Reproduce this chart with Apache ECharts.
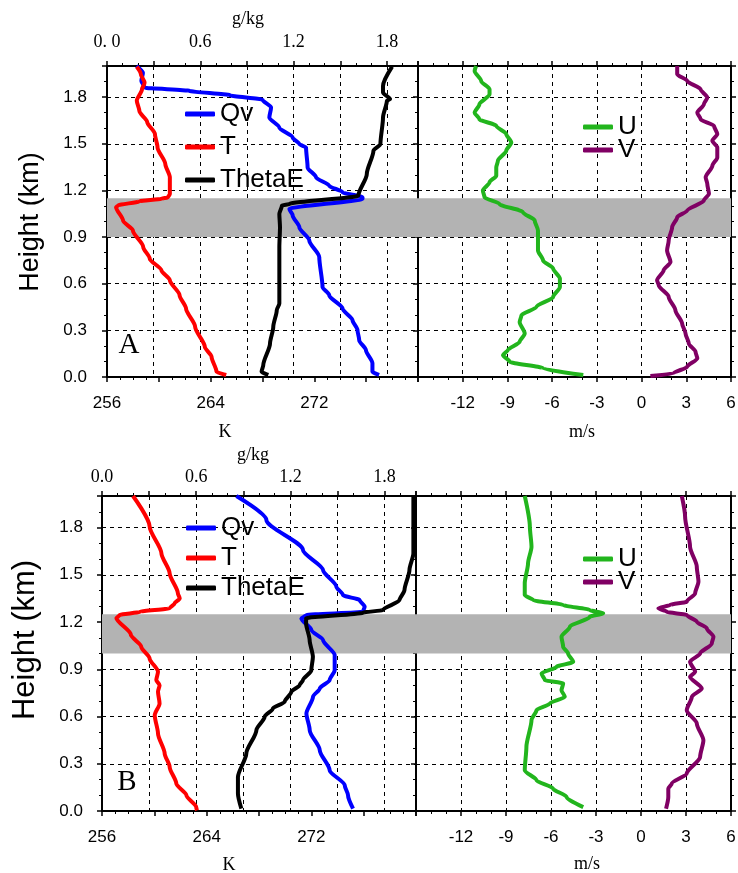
<!DOCTYPE html>
<html>
<head>
<meta charset="utf-8">
<title>Profiles A / B</title>
<script src="https://cdn.jsdelivr.net/npm/echarts@6/dist/echarts.min.js"></script>
</head>
<body style="margin:0;background:#fff">
<div id="container" style="width:738px;height:873px"></div>
<script>
// ---- data: [value, height km] ----
var aT = [[258.3,1.995],[258.6,1.95],[258.9,1.893],[258.7,1.85],[258.3,1.776],[258.5,1.71],[259.1,1.64],[259.7,1.562],[259.9,1.476],[260.5,1.37],[260.85,1.284],[260.85,1.177],[260.7,1.155],[260.2,1.146],[258.5,1.13],[256.85,1.103],[256.7,1.092],[257.24,1.006],[258.0,0.942],[258.8,0.835],[259.3,0.761],[260.2,0.686],[260.85,0.622],[261.6,0.526],[262.1,0.44],[262.8,0.323],[263.55,0.194],[264.07,0.13],[264.45,0.034],[265.2,0.013]];
var aThetaE = [[278.0,1.996],[277.3,1.872],[277.3,1.829],[277.85,1.787],[277.6,1.776],[277.3,1.669],[277.1,1.498],[276.56,1.455],[276.05,1.306],[275.4,1.167],[270.1,1.113],[269.5,1.103],[269.3,1.049],[269.35,0.963],[269.3,0.835],[269.3,0.472],[269.1,0.43],[268.83,0.322],[268.58,0.216],[268.06,0.077],[267.93,0.034],[268.45,0.013]];
var aQv = [[0.189,2.0],[0.231,1.957],[0.221,1.904],[0.242,1.861],[0.531,1.84],[0.789,1.812],[1.001,1.782],[1.055,1.733],[1.044,1.669],[1.108,1.604],[1.194,1.54],[1.237,1.498],[1.28,1.476],[1.29,1.348],[1.344,1.284],[1.429,1.23],[1.515,1.188],[1.643,1.156],[1.643,1.146],[1.173,1.081],[1.194,1.039],[1.237,0.963],[1.301,0.878],[1.365,0.771],[1.386,0.579],[1.429,0.526],[1.515,0.44],[1.579,0.365],[1.611,0.301],[1.622,0.237],[1.665,0.173],[1.707,0.088],[1.707,0.034],[1.75,0.013]];
var aU = [[-11.1,2.0],[-11.2,1.968],[-10.76,1.904],[-10.2,1.85],[-10.2,1.818],[-10.88,1.754],[-11.2,1.7],[-10.88,1.658],[-9.75,1.615],[-9.08,1.562],[-8.74,1.508],[-9.08,1.455],[-9.64,1.391],[-9.75,1.348],[-9.75,1.295],[-10.2,1.252],[-10.65,1.199],[-10.54,1.156],[-9.53,1.113],[-7.96,1.06],[-7.17,1.006],[-6.95,0.942],[-6.95,0.814],[-6.61,0.75],[-5.93,0.697],[-5.48,0.633],[-5.48,0.579],[-5.93,0.515],[-7.05,0.451],[-8.06,0.397],[-8.18,0.354],[-7.84,0.28],[-8.18,0.226],[-8.97,0.173],[-9.3,0.141],[-8.85,0.098],[-6.61,0.056],[-3.91,0.013]];
var aV = [[2.39,2.0],[2.39,1.947],[3.06,1.904],[3.96,1.85],[4.41,1.797],[4.18,1.754],[3.74,1.7],[3.96,1.658],[4.86,1.615],[5.08,1.562],[4.75,1.519],[5.08,1.476],[5.08,1.412],[4.75,1.359],[4.3,1.284],[4.41,1.241],[4.52,1.178],[4.18,1.135],[3.06,1.07],[2.39,1.028],[2.05,0.963],[1.82,0.878],[1.71,0.814],[1.94,0.739],[1.48,0.686],[1.04,0.622],[1.15,0.59],[1.82,0.515],[2.27,0.43],[2.72,0.344],[2.95,0.28],[3.17,0.216],[3.62,0.162],[3.74,0.12],[3.06,0.066],[2.16,0.024],[0.59,0.006]];

var bT = [[258.37,2.0],[259.64,1.806],[260.54,1.636],[261.17,1.509],[261.8,1.382],[261.94,1.35],[261.55,1.318],[261.17,1.287],[258.9,1.265],[257.35,1.244],[257.1,1.225],[258.2,1.12],[259.0,1.043],[259.64,0.969],[260.28,0.884],[260.15,0.831],[260.4,0.799],[260.28,0.757],[260.4,0.683],[260.03,0.608],[260.28,0.492],[260.79,0.365],[261.17,0.28],[261.68,0.174],[262.45,0.1],[263.2,0.025],[263.26,0.004]];
var bThetaE = [[279.8,2.0],[279.8,1.827],[279.8,1.636],[279.5,1.53],[279.12,1.403],[278.74,1.339],[277.47,1.276],[275.94,1.259],[271.6,1.223],[271.6,1.191],[271.87,1.085],[272.12,0.979],[272.0,0.894],[271.36,0.831],[271.1,0.799],[270.47,0.757],[269.96,0.693],[269.06,0.651],[268.43,0.598],[267.8,0.513],[267.03,0.365],[266.39,0.216],[266.39,0.111],[266.65,0.015]];
var bQv = [[0.856,2.0],[1.047,1.848],[1.28,1.657],[1.408,1.53],[1.493,1.424],[1.535,1.371],[1.641,1.339],[1.673,1.297],[1.662,1.265],[1.302,1.244],[1.27,1.223],[1.334,1.149],[1.408,1.085],[1.482,0.99],[1.482,0.894],[1.45,0.831],[1.387,0.778],[1.344,0.725],[1.302,0.619],[1.323,0.513],[1.387,0.386],[1.45,0.259],[1.546,0.163],[1.567,0.1],[1.599,0.015]];
var bU = [[-7.75,2.0],[-7.41,1.806],[-7.3,1.678],[-7.53,1.573],[-7.75,1.446],[-7.75,1.371],[-7.19,1.339],[-5.19,1.308],[-3.41,1.276],[-2.52,1.255],[-3.41,1.233],[-4.74,1.17],[-5.3,1.106],[-5.19,1.043],[-4.86,1.0],[-4.52,0.947],[-5.63,0.915],[-6.63,0.873],[-6.41,0.831],[-5.19,0.81],[-5.3,0.767],[-5.08,0.725],[-6.08,0.683],[-6.97,0.64],[-7.3,0.577],[-7.64,0.407],[-7.75,0.259],[-6.97,0.195],[-5.86,0.142],[-4.96,0.089],[-3.85,0.025]];
var bV = [[2.72,2.0],[2.94,1.869],[3.27,1.678],[3.72,1.551],[3.83,1.456],[3.61,1.382],[3.05,1.329],[1.94,1.308],[1.16,1.287],[1.72,1.265],[3.05,1.244],[3.72,1.202],[4.39,1.159],[4.83,1.106],[4.72,1.064],[3.94,1.0],[3.27,0.947],[3.61,0.884],[3.27,0.852],[4.05,0.778],[3.39,0.725],[3.05,0.64],[3.72,0.556],[4.16,0.449],[3.94,0.343],[3.05,0.238],[2.05,0.174],[1.82,0.142],[1.82,0.089],[1.67,0.015]];

// shaded layers [bottom, top] km
var aBand = [0.9, 1.15];
var bBand = [1.0, 1.25];

// tick labels
var kLabels = [256, 264, 272];
var qvLabels = [0, 0.6, 1.2, 1.8];
var windLabels = [-12, -9, -6, -3, 0, 3, 6];

var sans = 'Liberation Sans', serif = 'Liberation Serif';
var dom = document.getElementById('container');
var myChart = echarts.init(dom);

function near(v, list) {
  for (var i = 0; i < list.length; i++) if (Math.abs(v - list[i]) < 1e-6) return true;
  return false;
}

function axis(o) {
  var a = {
    type: 'value', gridIndex: o.grid, position: o.pos, min: o.min, max: o.max, interval: o.interval,
    axisLine: {show: true, onZero: false, lineStyle: {color: '#000', width: 2}},
    axisTick: {show: true, inside: false, length: 5, lineStyle: {color: '#000', width: 1.5}},
    minorTick: {show: true, splitNumber: o.minor, length: 3, lineStyle: {color: '#000', width: 1}},
    splitLine: o.split ? {show: true, lineStyle: {color: '#000', width: 1, type: [4, 4]}} : {show: false},
    axisLabel: o.label ? o.label : {show: false}
  };
  return a;
}

function hgtLabel(margin) {
  return {show: true, margin: margin, color: '#000', fontFamily: sans, fontSize: 17,
    formatter: function (v) { return v > 1.95 ? '' : v.toFixed(1); }};
}
function kLabel() {
  return {show: true, margin: 18, color: '#000', fontFamily: sans, fontSize: 17,
    formatter: function (v) { return near(v, kLabels) ? String(v) : ''; }};
}
function qvLabel(margin, zero) {
  return {show: true, margin: margin, color: '#000', fontFamily: serif, fontSize: 18,
    formatter: function (v) { return near(v, qvLabels) ? (v === 0 ? zero : v.toFixed(1)) : ''; }};
}
function windLabel() {
  return {show: true, margin: 18, color: '#000', fontFamily: sans, fontSize: 17,
    formatter: function (v) { return near(v, windLabels) ? String(v) : ''; }};
}

function line(name, data, color, xi, yi) {
  return {
    name: name, type: 'line', data: data, xAxisIndex: xi, yAxisIndex: yi,
    showSymbol: false, symbol: 'none', smooth: 0.25, smoothMonotone: 'y', z: 3,
    itemStyle: {color: color}, lineStyle: {color: color, width: 4}
  };
}
function band(b, xi, yi) {
  return {
    name: 'band' + xi, type: 'line', data: [], xAxisIndex: xi, yAxisIndex: yi, z: 1,
    markArea: {silent: true, itemStyle: {color: '#b3b3b3', opacity: 1},
      data: [[{yAxis: b[0]}, {yAxis: b[1]}]]}
  };
}
function legend(items, left, top, gap) {
  return {
    data: items, orient: 'vertical', left: left, top: top, itemGap: gap,
    itemWidth: 30, itemHeight: 5, icon: 'roundRect', selectedMode: false,
    textStyle: {color: '#000', fontFamily: sans, fontSize: 26}
  };
}
function txt(s, x, y, size, font, rot) {
  return {type: 'text', x: x, y: y, rotation: rot || 0,
    style: {text: s, fill: '#000', fontFamily: font, fontSize: size, align: 'center', verticalAlign: 'middle'}};
}

var green = '#22b51d', purple = '#800064';

var option = {
  animation: false,
  grid: [
    {left: 107, top: 66, width: 311, height: 311, outerBoundsMode: 'none'},
    {left: 418, top: 66, width: 313, height: 311, outerBoundsMode: 'none'},
    {left: 102, top: 496, width: 314, height: 315, outerBoundsMode: 'none'},
    {left: 416, top: 496, width: 315, height: 315, outerBoundsMode: 'none'}
  ],
  xAxis: [
    axis({grid: 0, pos: 'bottom', min: 256, max: 280, interval: 4, minor: 4, label: kLabel()}),
    axis({grid: 0, pos: 'top', min: 0, max: 2, interval: 0.3, minor: 3, split: true, label: qvLabel(15, '0. 0')}),
    axis({grid: 1, pos: 'bottom', min: -15, max: 6, interval: 3, minor: 3, split: true, label: windLabel()}),
    axis({grid: 1, pos: 'top', min: -15, max: 6, interval: 3, minor: 3}),
    axis({grid: 2, pos: 'bottom', min: 256, max: 280, interval: 4, minor: 4, label: kLabel()}),
    axis({grid: 2, pos: 'top', min: 0, max: 2, interval: 0.3, minor: 3, split: true, label: qvLabel(10, '0.0')}),
    axis({grid: 3, pos: 'bottom', min: -15, max: 6, interval: 3, minor: 3, split: true, label: windLabel()}),
    axis({grid: 3, pos: 'top', min: -15, max: 6, interval: 3, minor: 3})
  ],
  yAxis: [
    axis({grid: 0, pos: 'left', min: 0, max: 2, interval: 0.3, minor: 3, split: true, label: hgtLabel(20)}),
    axis({grid: 1, pos: 'left', min: 0, max: 2, interval: 0.3, minor: 3, split: true}),
    axis({grid: 1, pos: 'right', min: 0, max: 2, interval: 0.3, minor: 3}),
    axis({grid: 2, pos: 'left', min: 0, max: 2, interval: 0.3, minor: 3, split: true, label: hgtLabel(19)}),
    axis({grid: 3, pos: 'left', min: 0, max: 2, interval: 0.3, minor: 3, split: true}),
    axis({grid: 3, pos: 'right', min: 0, max: 2, interval: 0.3, minor: 3})
  ],
  legend: [
    legend(['Qv', 'T', 'ThetaE'], 180, 96, 7),
    legend(['U', 'V'], 578, 109, -3),
    legend(['Qv', 'T', 'ThetaE'], 181, 510, 4),
    legend(['U', 'V'], 578, 541, -3)
  ],
  series: [
    band(aBand, 0, 0),
    band(aBand, 2, 1),
    band(bBand, 4, 3),
    band(bBand, 6, 4),
    line('Qv', aQv, '#0000ff', 1, 0),
    line('T', aT, '#ff0000', 0, 0),
    line('ThetaE', aThetaE, '#000000', 0, 0),
    line('U', aU, green, 2, 1),
    line('V', aV, purple, 2, 1),
    line('Qv', bQv, '#0000ff', 5, 3),
    line('T', bT, '#ff0000', 4, 3),
    line('ThetaE', bThetaE, '#000000', 4, 3),
    line('U', bU, green, 6, 4),
    line('V', bV, purple, 6, 4)
  ],
  graphic: [
    txt('g/kg', 248, 19, 18, serif),
    txt('K', 225, 432, 18, serif),
    txt('m/s', 582, 432, 18, serif),
    txt('A', 129, 345, 29, serif),
    txt('Height (km)', 31, 222, 27, sans, Math.PI / 2),
    txt('g/kg', 253, 455, 18, serif),
    txt('K', 229, 865, 18, serif),
    txt('m/s', 587, 864, 18, serif),
    txt('B', 127, 782, 29, serif),
    txt('Height (km)', 25, 640, 31, sans, Math.PI / 2)
  ]
};

if (option && typeof option === 'object') {
  myChart.setOption(option);
}
</script>
</body>
</html>
